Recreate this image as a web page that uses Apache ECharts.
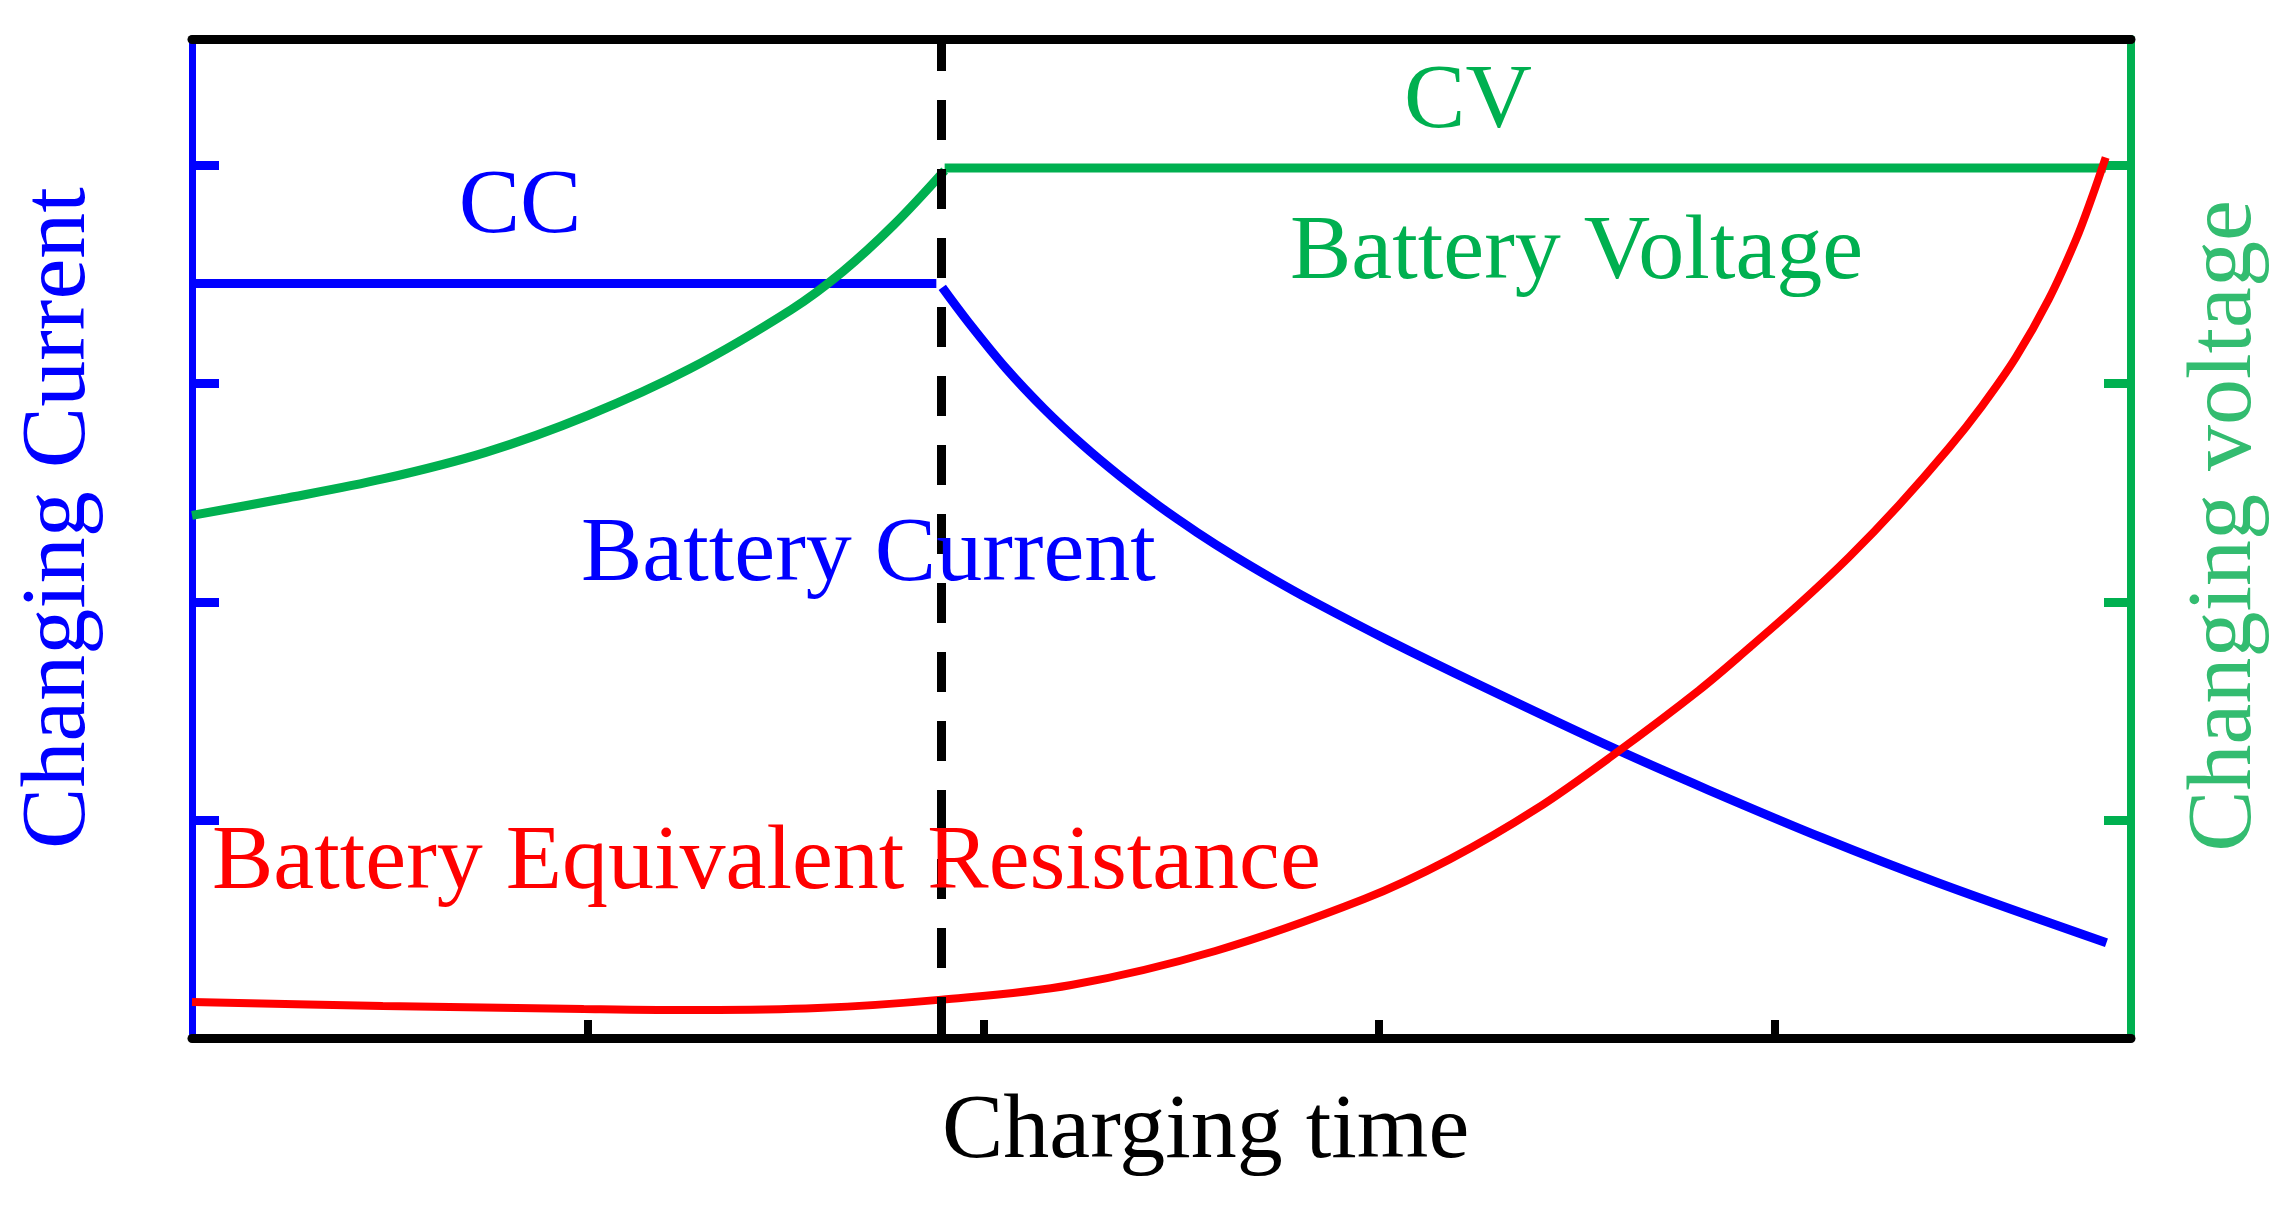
<!DOCTYPE html>
<html>
<head>
<meta charset="utf-8">
<title>CC-CV charging</title>
<script src="https://cdn.jsdelivr.net/npm/echarts@6/dist/echarts.min.js"></script>
<style>
  html, body { margin: 0; padding: 0; background: #fff; }
  #chart { width: 2289px; height: 1207px; }
</style>
</head>
<body>
<div id="chart"></div>
<script>
// axis ticks (no numbers shown, arbitrary units)
var xTicks = [1, 2, 3, 4];
var yTicks = [1, 2, 3, 4];
var switchTime = 1.894; // CC -> CV switch, dashed line

// battery current: constant part, then decay
var ccCurrent = [[0, 3.459], [1.881, 3.459]];
var cvCurrent = [
  [1.896, 3.441], [1.960, 3.286], [2.058, 3.068], [2.154, 2.883],
  [2.250, 2.720], [2.346, 2.574], [2.444, 2.438], [2.540, 2.318],
  [2.636, 2.207], [2.732, 2.104], [2.831, 2.004], [3.023, 1.823],
  [3.253, 1.619], [3.598, 1.324], [3.831, 1.138], [4.121, 0.917],
  [4.412, 0.712], [4.838, 0.437]
];

// battery voltage: rising part, then constant
var riseVoltage = [
  [0, 2.396], [0.227, 2.471], [0.485, 2.564], [0.742, 2.685],
  [1.000, 2.854], [1.258, 3.068], [1.515, 3.340], [1.644, 3.513],
  [1.773, 3.727], [1.902, 3.977]
];
var cvVoltage = [[1.902, 3.989], [4.836, 3.989]];

// battery equivalent resistance
var resistance = [
  [0, 0.165], [0.482, 0.147], [0.990, 0.133], [1.285, 0.128],
  [1.581, 0.137], [1.894, 0.176], [2.222, 0.243], [2.586, 0.399],
  [2.962, 0.637], [3.179, 0.820], [3.396, 1.049], [3.598, 1.306],
  [3.808, 1.594], [3.934, 1.787], [4.061, 1.989], [4.187, 2.204],
  [4.313, 2.442], [4.439, 2.703], [4.523, 2.896], [4.609, 3.120],
  [4.692, 3.386], [4.760, 3.656], [4.801, 3.853], [4.836, 4.037]
];

var BLUE = "#0000ff";
var GREEN = "#00b050";
var RED = "#ff0000";
var LIGHT_GREEN = "#33bc70";
var SERIF = "'Liberation Serif', 'Times New Roman', serif";

function label(text, x, y, color, align, rotation) {
  return {
    type: "text",
    x: x,
    y: y,
    rotation: rotation || 0,
    z: 10,
    style: {
      text: text,
      fill: color,
      fontSize: 92,
      fontFamily: SERIF,
      align: align || "left",
      verticalAlign: "middle"
    }
  };
}

var chart = echarts.init(document.getElementById("chart"));

var option = {
  animation: false,
  grid: { left: 192, right: 158, top: 39, bottom: 169 },
  xAxis: [
    {
      type: "value",
      min: 0,
      max: 4.9,
      interval: 1,
      z: 1,
      axisLine: { show: true, onZero: false, lineStyle: { color: "#000", width: 9 } },
      axisTick: { show: true, inside: true, length: 18, customValues: xTicks,
        lineStyle: { color: "#000", width: 8 } },
      axisLabel: { show: false },
      splitLine: { show: false }
    },
    {
      type: "value",
      position: "top",
      min: 0,
      max: 4.9,
      z: 1,
      axisLine: { show: true, onZero: false, lineStyle: { color: "#000", width: 9 } },
      axisTick: { show: false },
      axisLabel: { show: false },
      splitLine: { show: false }
    }
  ],
  yAxis: [
    {
      type: "value",
      position: "left",
      min: 0,
      max: 4.58,
      interval: 1,
      axisLine: { show: true, onZero: false, lineStyle: { color: BLUE, width: 7 } },
      axisTick: { show: true, inside: true, length: 27, customValues: yTicks,
        lineStyle: { color: BLUE, width: 9 } },
      axisLabel: { show: false },
      splitLine: { show: false }
    },
    {
      type: "value",
      position: "right",
      min: 0,
      max: 4.58,
      interval: 1,
      axisLine: { show: true, onZero: false, lineStyle: { color: GREEN, width: 8 } },
      axisTick: { show: true, inside: true, length: 27, customValues: yTicks,
        lineStyle: { color: GREEN, width: 9 } },
      axisLabel: { show: false },
      splitLine: { show: false }
    }
  ],
  series: [
    {
      name: "CC current",
      type: "line",
      data: ccCurrent,
      showSymbol: false,
      lineStyle: { color: BLUE, width: 9 },
      markLine: {
        silent: true,
        symbol: ["none", "none"],
        label: { show: false },
        lineStyle: { color: "#000", width: 9, type: [40, 29], dashOffset: 8 },
        data: [[{ coord: [switchTime, 4.58] }, { coord: [switchTime, 0] }]]
      }
    },
    {
      name: "Battery Current",
      type: "line",
      data: cvCurrent,
      smooth: 0.35,
      showSymbol: false,
      lineStyle: { color: BLUE, width: 9 }
    },
    {
      name: "Battery Voltage",
      type: "line",
      yAxisIndex: 1,
      data: riseVoltage,
      smooth: 0.35,
      showSymbol: false,
      lineStyle: { color: GREEN, width: 9 }
    },
    {
      name: "CV voltage",
      type: "line",
      yAxisIndex: 1,
      data: cvVoltage,
      showSymbol: false,
      lineStyle: { color: GREEN, width: 9 }
    },
    {
      name: "Battery Equivalent Resistance",
      type: "line",
      data: resistance,
      smooth: 0.35,
      showSymbol: false,
      lineStyle: { color: RED, width: 8 }
    }
  ],
  graphic: [
    label("CC", 520, 208, BLUE, "center"),
    label("CV", 1468, 103, GREEN, "center"),
    label("Battery Voltage", 1290, 254, GREEN),
    label("Battery Current", 581, 556, BLUE),
    label("Battery Equivalent Resistance", 212, 864, RED),
    label("Charging time", 942, 1133, "#000"),
    label("Changing Current", 60, 518, BLUE, "center", Math.PI / 2),
    label("Changing voltage", 2226, 526, LIGHT_GREEN, "center", Math.PI / 2)
  ]
};

chart.setOption(option);
</script>
</body>
</html>
